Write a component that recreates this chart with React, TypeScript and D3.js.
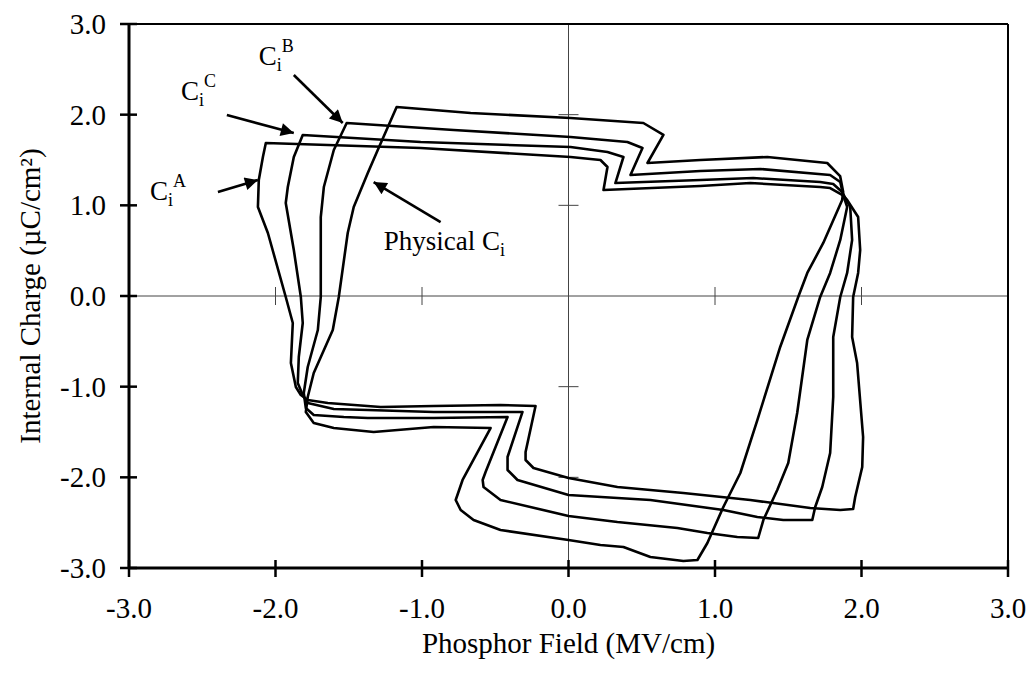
import React from "react";
import * as d3 from "d3";

// loops, [field MV/cm, charge uC/cm2], clockwise from top-left corner
const physicalLoop: [number, number][] = [
  [-1.173, 2.085], [-0.668, 2.018], [0.014, 1.963], [0.511, 1.908], [0.648, 1.776],
  [0.539, 1.467], [0.9, 1.5], [1.357, 1.533], [1.766, 1.467], [1.854, 1.323],
  [1.875, 1.147], [1.868, 1.059], [1.739, 0.585], [1.63, 0.254], [1.568, -0.011],
  [1.445, -0.562], [1.289, -1.368], [1.173, -1.952], [1.057, -2.327], [0.948, -2.724],
  [0.88, -2.912], [0.784, -2.923], [0.559, -2.879], [0.375, -2.768], [0.218, -2.746],
  [0.0, -2.691], [-0.464, -2.581], [-0.648, -2.471], [-0.736, -2.36], [-0.77, -2.25],
  [-0.723, -2.029], [-0.532, -1.456], [-0.92, -1.445], [-1.33, -1.5], [-1.602, -1.456],
  [-1.739, -1.401], [-1.793, -1.279], [-1.78, -1.114], [-1.739, -0.849], [-1.609, -0.375],
  [-1.568, -0.011], [-1.507, 0.695], [-1.466, 0.982], [-1.37, 1.357], [-1.302, 1.61],
];

const loopB: [number, number][] = [
  [-1.514, 1.908], [-0.784, 1.831], [0.014, 1.754], [0.402, 1.698], [0.505, 1.632],
  [0.423, 1.335], [0.9, 1.379], [1.309, 1.401], [1.786, 1.335], [1.855, 1.257],
  [1.875, 1.114], [1.902, 0.982], [1.855, 0.618], [1.786, 0.254], [1.718, -0.011],
  [1.63, -0.485], [1.561, -1.29], [1.5, -1.842], [1.425, -2.14], [1.33, -2.471],
  [1.295, -2.669], [1.152, -2.658], [0.948, -2.614], [0.743, -2.559], [0.334, -2.493],
  [0.0, -2.426], [-0.464, -2.25], [-0.58, -2.107], [-0.586, -2.029], [-0.566, -1.941],
  [-0.416, -1.335], [-0.92, -1.346], [-1.37, -1.346], [-1.534, -1.335], [-1.739, -1.312],
  [-1.793, -1.235], [-1.807, -1.07], [-1.78, -0.783], [-1.711, -0.375], [-1.691, -0.011],
  [-1.691, 0.871], [-1.67, 1.202], [-1.602, 1.61],
];

const loopC: [number, number][] = [
  [-1.814, 1.776], [-1.009, 1.698], [0.014, 1.643], [0.266, 1.588], [0.375, 1.533],
  [0.32, 1.246], [0.9, 1.279], [1.261, 1.301], [1.718, 1.257], [1.807, 1.235],
  [1.868, 1.147], [1.923, 0.982], [1.936, 0.618], [1.902, 0.254], [1.855, -0.011],
  [1.807, -0.452], [1.807, -1.114], [1.786, -1.732], [1.732, -2.107], [1.684, -2.327],
  [1.664, -2.471], [1.466, -2.471], [1.289, -2.437], [1.057, -2.36], [0.559, -2.25],
  [0.0, -2.195], [-0.348, -2.029], [-0.416, -1.919], [-0.416, -1.776], [-0.314, -1.279],
  [-0.92, -1.279], [-1.37, -1.257], [-1.602, -1.246], [-1.78, -1.18], [-1.814, -1.092],
  [-1.848, -0.96], [-1.841, -0.673], [-1.814, -0.298], [-1.827, -0.011], [-1.875, 0.507],
  [-1.93, 1.026], [-1.916, 1.202], [-1.875, 1.533],
];

const loopA: [number, number][] = [
  [-2.066, 1.687], [-1.009, 1.632], [0.014, 1.533], [0.218, 1.5], [0.266, 1.423],
  [0.239, 1.169], [0.9, 1.213], [1.241, 1.246], [1.718, 1.202], [1.786, 1.191],
  [1.868, 1.114], [1.902, 1.059], [1.977, 0.871], [1.991, 0.507], [1.977, 0.254],
  [1.943, -0.011], [1.936, -0.452], [1.97, -0.739], [2.011, -1.555], [2.005, -1.886],
  [1.957, -2.217], [1.943, -2.349], [1.855, -2.36], [1.65, -2.338], [1.241, -2.25],
  [0.784, -2.173], [0.334, -2.107], [0.0, -2.007], [-0.239, -1.897], [-0.293, -1.809],
  [-0.293, -1.721], [-0.225, -1.213], [-0.464, -1.202], [-0.92, -1.213], [-1.282, -1.224],
  [-1.643, -1.18], [-1.78, -1.147], [-1.827, -1.092], [-1.861, -1.004], [-1.895, -0.739],
  [-1.882, -0.298], [-1.93, -0.011], [-2.052, 0.695], [-2.12, 0.982], [-2.114, 1.279],
  [-2.086, 1.533],
];

const tickValues = [-3, -2, -1, 0, 1, 2, 3];
const innerTicks = [-2, -1, 1, 2];

// label text, anchor of the text and arrow [from, to], all in data units
const notes = [
  { main: "C", sub: "i", sup: "B", at: [-2.114, 2.548], from: [-1.875, 2.437], to: [-1.541, 1.908] },
  { main: "C", sub: "i", sup: "C", at: [-2.645, 2.162], from: [-2.332, 1.996], to: [-1.875, 1.798] },
  { main: "C", sub: "i", sup: "A", at: [-2.857, 1.059], from: [-2.393, 1.147], to: [-2.12, 1.279] },
  { main: "Physical C", sub: "i", sup: "", at: [-1.261, 0.507], from: [-0.873, 0.816], to: [-1.33, 1.257] },
];

const W = 1030, H = 678;
const FONT = "Liberation Serif, Times New Roman, serif";

export default function App() {
  const x = d3.scaleLinear().domain([-3, 3]).range([129, 1008]);
  const y = d3.scaleLinear().domain([-3, 3]).range([568, 24]);
  const line = d3.line<[number, number]>()
    .x(d => x(d[0]))
    .y(d => y(d[1]))
    .curve(d3.curveLinearClosed);

  const loops = [physicalLoop, loopB, loopC, loopA];
  const fmt = (t: number) => t.toFixed(1);

  return (
    <svg width={W} height={H}
      style={{ position: "absolute", left: 0, top: 0, background: "#fff", fontFamily: FONT }}>
      <defs>
        <marker id="arr" viewBox="0 0 10 10" refX="10" refY="5" markerWidth="6" markerHeight="5"
          orient="auto" markerUnits="strokeWidth">
          <path d="M0,0 L10,5 L0,10 z" fill="#000" />
        </marker>
      </defs>

      {/* crosshair through the origin */}
      <line x1={x(-3)} x2={x(3)} y1={y(0)} y2={y(0)} stroke="#444" strokeWidth={1} />
      <line x1={x(0)} x2={x(0)} y1={y(-3)} y2={y(3)} stroke="#444" strokeWidth={1} />
      {innerTicks.map(t => (
        <g key={"it" + t} stroke="#444" strokeWidth={1}>
          <line x1={x(t)} x2={x(t)} y1={y(0) - 9} y2={y(0) + 9} />
          <line x1={x(0) - 10} x2={x(0) + 10} y1={y(t)} y2={y(t)} />
        </g>
      ))}

      {/* loops */}
      {loops.map((l, i) => (
        <path key={i} d={line(l) || ""} fill="none" stroke="#000" strokeWidth={2.6}
          strokeLinejoin="round" />
      ))}

      {/* frame */}
      <line x1={x(-3)} x2={x(3)} y1={y(3)} y2={y(3)} stroke="#000" strokeWidth={2} />
      <line x1={x(3)} x2={x(3)} y1={y(3)} y2={y(-3)} stroke="#000" strokeWidth={2} />
      <line x1={x(-3)} x2={x(-3)} y1={y(3) - 1} y2={y(-3) + 1} stroke="#000" strokeWidth={3} />
      <line x1={x(-3)} x2={x(3) + 1} y1={y(-3)} y2={y(-3)} stroke="#000" strokeWidth={3} />

      {/* axis ticks and labels */}
      {tickValues.map(t => (
        <g key={"y" + t}>
          <line x1={x(-3) - 9} x2={x(-3) + 8} y1={y(t)} y2={y(t)} stroke="#000" strokeWidth={2.5} />
          <text x={x(-3) - 23} y={y(t)} dy="0.35em" textAnchor="end" fontSize={29}>
            {fmt(t)}
          </text>
        </g>
      ))}
      {tickValues.map(t => (
        <g key={"x" + t}>
          <line x1={x(t)} x2={x(t)} y1={y(-3) - 8} y2={y(-3) + 9} stroke="#000" strokeWidth={2.5} />
          <text x={x(t)} y={y(-3) + 40} dy="0.35em" textAnchor="middle" fontSize={29}>
            {fmt(t)}
          </text>
        </g>
      ))}

      <text x={x(0)} y={643} dy="0.35em" textAnchor="middle" fontSize={29}>
        Phosphor Field (MV/cm)
      </text>
      <text transform={`translate(30,${y(0)}) rotate(-90)`} dy="0.35em" textAnchor="middle" fontSize={29}>
        Internal Charge (µC/cm²)
      </text>

      {/* annotations */}
      {notes.map((n, i) => (
        <g key={"n" + i}>
          <line x1={x(n.from[0])} y1={y(n.from[1])} x2={x(n.to[0])} y2={y(n.to[1])}
            stroke="#000" strokeWidth={2.6} markerEnd="url(#arr)" />
          <text x={x(n.at[0])} y={y(n.at[1])} fontSize={27}>
            {n.main}
            <tspan fontSize={18} dy={6}>{n.sub}</tspan>
            {n.sup && <tspan fontSize={18} dy={-19}>{n.sup}</tspan>}
          </text>
        </g>
      ))}
    </svg>
  );
}
